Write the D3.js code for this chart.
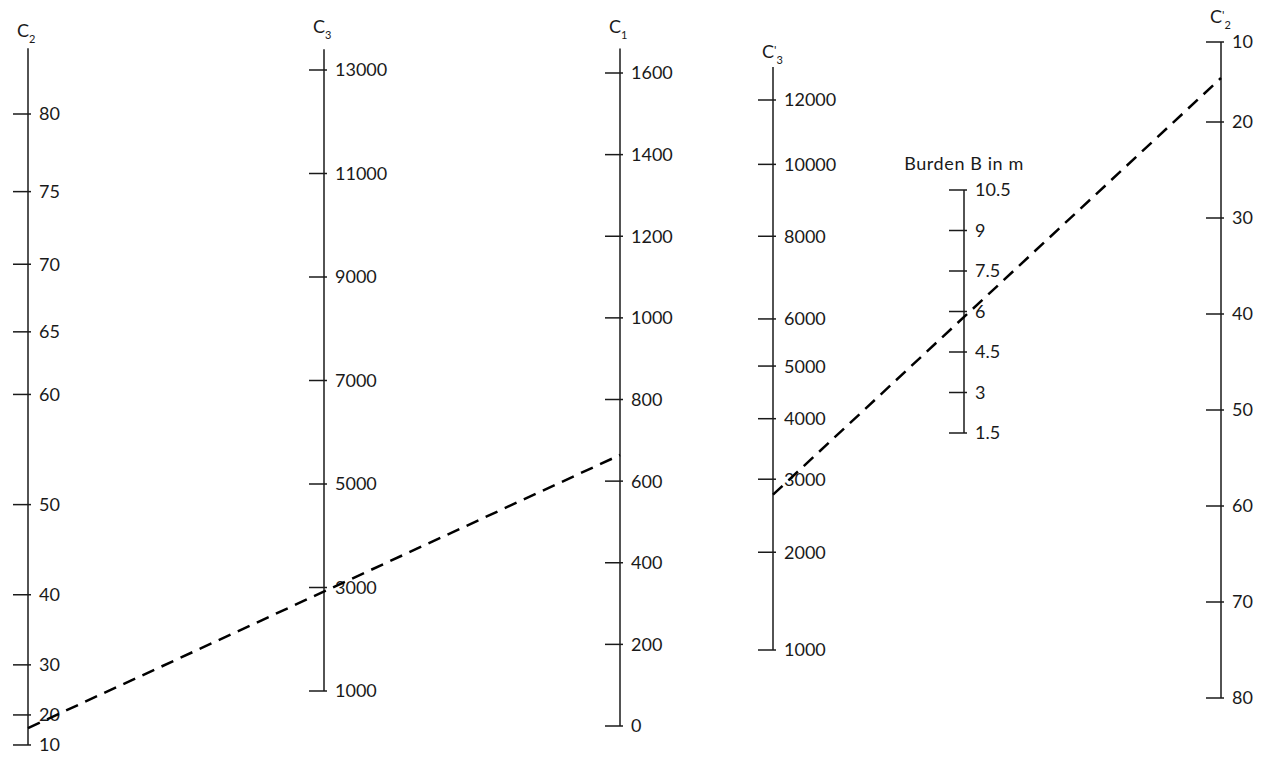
<!DOCTYPE html>
<html>
<head>
<meta charset="utf-8">
<script src="https://cdn.jsdelivr.net/npm/d3@7"></script>
<style>
  html, body { margin: 0; padding: 0; background: #fff; }
  svg { display: block; }
  text { font-family: Lato, "Open Sans", "DejaVu Sans", sans-serif; fill: #1a1a1a; }
</style>
</head>
<body>
<svg id="chart" width="1265" height="758"></svg>
<script>
// ---------------- data ----------------
const c2Ticks     = [10, 20, 30, 40, 50, 60, 65, 70, 75, 80];
const c3Ticks     = [1000, 3000, 5000, 7000, 9000, 11000, 13000];
const c1Ticks     = [0, 200, 400, 600, 800, 1000, 1200, 1400, 1600];
const c3pTicks    = [1000, 2000, 3000, 4000, 5000, 6000, 8000, 10000, 12000];
const burdenTicks = [1.5, 3, 4.5, 6, 7.5, 9, 10.5];
const c2pTicks    = [10, 20, 30, 40, 50, 60, 70, 80];

// axis line extents (in scale values)
const c2Extent     = [10, 84];
const c3Extent     = [1000, 13400];
const c1Extent     = [0, 1660];
const c3pExtent    = [1000, 13100];
const burdenExtent = [1.5, 10.5];
const c2pExtent    = [10, 80];

// key (dashed) lines: [axis id, value]
const keyLine1 = [["C2", 16.4], ["C1", 664]];
const keyLine2 = [["C3p", 2770], ["C2p", 14.5]];

// ---------------- layout ----------------
const svg = d3.select("#chart");
svg.append("rect").attr("width", 1265).attr("height", 758).attr("fill", "#fff");

const axes = {
  C2:  { x: 28,   scale: d3.scalePow().exponent(2).domain([0, 80]).range([755, 114]),
         ticks: c2Ticks, extent: c2Extent, title: ["C", "", "2"], titleY: 37 },
  C3:  { x: 324,  scale: d3.scaleLinear().domain([1000, 13000]).range([691, 70]),
         ticks: c3Ticks, extent: c3Extent, title: ["C", "", "3"], titleY: 33 },
  C1:  { x: 620,  scale: d3.scaleLinear().domain([0, 1600]).range([726, 73]),
         ticks: c1Ticks, extent: c1Extent, title: ["C", "", "1"], titleY: 33 },
  C3p: { x: 773,  scale: d3.scalePow().exponent(0.45).domain([1000, 12000]).range([650, 100]),
         ticks: c3pTicks, extent: c3pExtent, title: ["C", "'", "3"], titleY: 58 },
  B:   { x: 964,  scale: d3.scaleLinear().domain([1.5, 10.5]).range([433, 190]),
         ticks: burdenTicks, extent: burdenExtent, title: null },
  C2p: { x: 1221, scale: d3.scaleLinear().domain([10, 20, 80]).range([42, 122, 698]),
         ticks: c2pTicks, extent: c2pExtent, title: ["C", "'", "2"], titleY: 23 }
};

const tickLeft = 15, tickRight = 3, labelGap = 11;

Object.entries(axes).forEach(([id, a]) => {
  const g = svg.append("g").attr("transform", `translate(${a.x},0)`);
  g.append("line")
    .attr("x1", 0).attr("x2", 0)
    .attr("y1", a.scale(a.extent[0])).attr("y2", a.scale(a.extent[1]))
    .attr("stroke", "#1a1a1a").attr("stroke-width", 1.5);

  const t = g.selectAll("g.tick").data(a.ticks).join("g")
    .attr("class", "tick")
    .attr("transform", d => `translate(0,${a.scale(d)})`);
  t.append("line").attr("x1", -tickLeft).attr("x2", tickRight)
    .attr("stroke", "#1a1a1a").attr("stroke-width", 1.5);
  t.append("text").attr("x", labelGap).attr("dy", "0.36em")
    .attr("font-size", 18)
    .text(d => d);

  if (a.title) {
    const tt = g.append("text").attr("x", -11).attr("y", a.titleY).attr("font-size", 18);
    tt.append("tspan").text(a.title[0]);
    if (a.title[1]) tt.append("tspan").attr("font-size", 12).attr("dy", -4).text(a.title[1]);
    tt.append("tspan").attr("font-size", 11).attr("dy", a.title[1] ? 10 : 6).text(a.title[2]);
  }
});

// burden label
svg.append("text")
  .attr("x", axes.B.x).attr("y", 170)
  .attr("text-anchor", "middle").attr("font-size", 18)
  .attr("letter-spacing", 0.6)
  .text("Burden B in m");

// dashed key lines
const line = d3.line().x(d => axes[d[0]].x).y(d => axes[d[0]].scale(d[1]));
[keyLine1, keyLine2].forEach(k => {
  svg.append("path").attr("d", line(k))
    .attr("fill", "none").attr("stroke", "#000")
    .attr("stroke-width", 2.5).attr("stroke-dasharray", "13,8");
});
</script>
</body>
</html>
